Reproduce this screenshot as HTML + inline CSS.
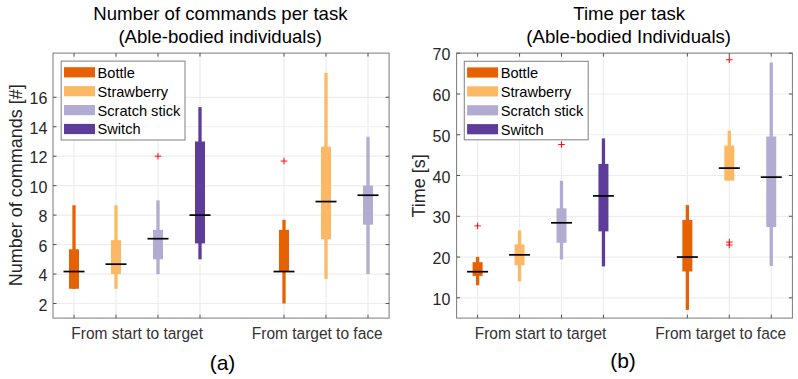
<!DOCTYPE html>
<html><head><meta charset="utf-8"><style>
html,body{margin:0;padding:0;background:#fff;}
body{width:798px;height:379px;overflow:hidden;}
svg{display:block;font-family:"Liberation Sans",sans-serif;}
</style></head><body>
<svg width="798" height="379" viewBox="0 0 798 379">
<rect width="798" height="379" fill="#fff"/>
<g stroke="#ededed" stroke-width="1.2"><line x1="53.0" y1="303.50" x2="389.1" y2="303.50"/><line x1="53.0" y1="274.04" x2="389.1" y2="274.04"/><line x1="53.0" y1="244.58" x2="389.1" y2="244.58"/><line x1="53.0" y1="215.12" x2="389.1" y2="215.12"/><line x1="53.0" y1="185.66" x2="389.1" y2="185.66"/><line x1="53.0" y1="156.20" x2="389.1" y2="156.20"/><line x1="53.0" y1="126.74" x2="389.1" y2="126.74"/><line x1="53.0" y1="97.28" x2="389.1" y2="97.28"/><line x1="74.00" y1="53.1" x2="74.00" y2="318.1"/><line x1="116.00" y1="53.1" x2="116.00" y2="318.1"/><line x1="158.00" y1="53.1" x2="158.00" y2="318.1"/><line x1="200.00" y1="53.1" x2="200.00" y2="318.1"/><line x1="284.00" y1="53.1" x2="284.00" y2="318.1"/><line x1="326.00" y1="53.1" x2="326.00" y2="318.1"/><line x1="368.00" y1="53.1" x2="368.00" y2="318.1"/></g>
<rect x="72.35" y="205.25" width="3.3" height="83.52" fill="#e66101"/>
<rect x="69.00" y="249.29" width="10.0" height="39.48" fill="#e66101"/>
<rect x="63.50" y="270.69" width="21.0" height="1.7" fill="#000"/>
<rect x="114.35" y="205.25" width="3.3" height="83.52" fill="#fdb863"/>
<rect x="111.00" y="240.16" width="10.0" height="33.88" fill="#fdb863"/>
<rect x="105.50" y="263.32" width="21.0" height="1.7" fill="#000"/>
<rect x="156.35" y="200.39" width="3.3" height="73.65" fill="#b2abd2"/>
<rect x="153.00" y="229.85" width="10.0" height="29.46" fill="#b2abd2"/>
<rect x="147.50" y="237.84" width="21.0" height="1.7" fill="#000"/>
<path d="M154.70 156.20H161.30M158.00 152.90V159.50" stroke="#ff0000" stroke-width="0.95" fill="none"/>
<rect x="198.35" y="107.15" width="3.3" height="152.16" fill="#5e3c99"/>
<rect x="195.00" y="141.47" width="10.0" height="101.93" fill="#5e3c99"/>
<rect x="189.50" y="214.27" width="21.0" height="1.7" fill="#000"/>
<rect x="282.35" y="219.83" width="3.3" height="83.67" fill="#e66101"/>
<rect x="279.00" y="229.85" width="10.0" height="41.69" fill="#e66101"/>
<rect x="273.50" y="270.69" width="21.0" height="1.7" fill="#000"/>
<path d="M280.70 161.06H287.30M284.00 157.76V164.36" stroke="#ff0000" stroke-width="0.95" fill="none"/>
<rect x="324.35" y="72.98" width="3.3" height="205.93" fill="#fdb863"/>
<rect x="321.00" y="146.63" width="10.0" height="92.65" fill="#fdb863"/>
<rect x="315.50" y="200.72" width="21.0" height="1.7" fill="#000"/>
<rect x="366.35" y="136.76" width="3.3" height="137.28" fill="#b2abd2"/>
<rect x="363.00" y="185.66" width="10.0" height="39.03" fill="#b2abd2"/>
<rect x="357.50" y="194.38" width="21.0" height="1.7" fill="#000"/>
<rect x="53.0" y="53.1" width="336.1" height="265.0" fill="none" stroke="#7a7a7a" stroke-width="1"/>
<path d="M53.0 303.50h3.5M389.1 303.50h-3.5M53.0 274.04h3.5M389.1 274.04h-3.5M53.0 244.58h3.5M389.1 244.58h-3.5M53.0 215.12h3.5M389.1 215.12h-3.5M53.0 185.66h3.5M389.1 185.66h-3.5M53.0 156.20h3.5M389.1 156.20h-3.5M53.0 126.74h3.5M389.1 126.74h-3.5M53.0 97.28h3.5M389.1 97.28h-3.5M74.00 318.1v-3.5M74.00 53.1v3.5M116.00 318.1v-3.5M116.00 53.1v3.5M158.00 318.1v-3.5M158.00 53.1v3.5M200.00 318.1v-3.5M200.00 53.1v3.5M284.00 318.1v-3.5M284.00 53.1v3.5M326.00 318.1v-3.5M326.00 53.1v3.5M368.00 318.1v-3.5M368.00 53.1v3.5" stroke="#555" stroke-width="1" fill="none"/>
<text x="47.4" y="310.50" text-anchor="end" font-size="16.0" fill="#262626">2</text>
<text x="47.4" y="281.04" text-anchor="end" font-size="16.0" fill="#262626">4</text>
<text x="47.4" y="251.58" text-anchor="end" font-size="16.0" fill="#262626">6</text>
<text x="47.4" y="222.12" text-anchor="end" font-size="16.0" fill="#262626">8</text>
<text x="47.4" y="192.66" text-anchor="end" font-size="16.0" fill="#262626">10</text>
<text x="47.4" y="163.20" text-anchor="end" font-size="16.0" fill="#262626">12</text>
<text x="47.4" y="133.74" text-anchor="end" font-size="16.0" fill="#262626">14</text>
<text x="47.4" y="104.28" text-anchor="end" font-size="16.0" fill="#262626">16</text>
<g stroke="#ededed" stroke-width="1.2"><line x1="456.6" y1="297.80" x2="792.4" y2="297.80"/><line x1="456.6" y1="257.04" x2="792.4" y2="257.04"/><line x1="456.6" y1="216.28" x2="792.4" y2="216.28"/><line x1="456.6" y1="175.52" x2="792.4" y2="175.52"/><line x1="456.6" y1="134.76" x2="792.4" y2="134.76"/><line x1="456.6" y1="94.00" x2="792.4" y2="94.00"/><line x1="456.6" y1="53.24" x2="792.4" y2="53.24"/><line x1="477.60" y1="53.1" x2="477.60" y2="318.1"/><line x1="519.55" y1="53.1" x2="519.55" y2="318.1"/><line x1="561.50" y1="53.1" x2="561.50" y2="318.1"/><line x1="603.45" y1="53.1" x2="603.45" y2="318.1"/><line x1="687.35" y1="53.1" x2="687.35" y2="318.1"/><line x1="729.30" y1="53.1" x2="729.30" y2="318.1"/><line x1="771.25" y1="53.1" x2="771.25" y2="318.1"/></g>
<rect x="475.95" y="256.88" width="3.3" height="28.41" fill="#e66101"/>
<rect x="472.60" y="262.18" width="10.0" height="13.74" fill="#e66101"/>
<rect x="467.10" y="270.86" width="21.0" height="1.7" fill="#000"/>
<path d="M474.30 225.90H480.90M477.60 222.60V229.20" stroke="#ff0000" stroke-width="0.95" fill="none"/>
<rect x="517.90" y="230.55" width="3.3" height="50.75" fill="#fdb863"/>
<rect x="514.55" y="244.40" width="10.0" height="20.95" fill="#fdb863"/>
<rect x="509.05" y="253.99" width="21.0" height="1.7" fill="#000"/>
<rect x="559.85" y="180.82" width="3.3" height="78.67" fill="#b2abd2"/>
<rect x="556.50" y="208.37" width="10.0" height="34.40" fill="#b2abd2"/>
<rect x="551.00" y="221.95" width="21.0" height="1.7" fill="#000"/>
<path d="M558.20 144.54H564.80M561.50 141.24V147.84" stroke="#ff0000" stroke-width="0.95" fill="none"/>
<rect x="601.80" y="138.43" width="3.3" height="127.99" fill="#5e3c99"/>
<rect x="598.45" y="163.90" width="10.0" height="67.46" fill="#5e3c99"/>
<rect x="592.95" y="195.05" width="21.0" height="1.7" fill="#000"/>
<rect x="685.70" y="205.07" width="3.3" height="104.83" fill="#e66101"/>
<rect x="682.35" y="219.95" width="10.0" height="51.52" fill="#e66101"/>
<rect x="676.85" y="256.19" width="21.0" height="1.7" fill="#000"/>
<rect x="727.65" y="130.68" width="3.3" height="49.93" fill="#fdb863"/>
<rect x="724.30" y="145.60" width="10.0" height="35.01" fill="#fdb863"/>
<rect x="718.80" y="167.25" width="21.0" height="1.7" fill="#000"/>
<path d="M726.00 59.76H732.60M729.30 56.46V63.06" stroke="#ff0000" stroke-width="0.95" fill="none"/>
<path d="M726.00 242.08H732.60M729.30 238.78V245.38" stroke="#ff0000" stroke-width="0.95" fill="none"/>
<path d="M726.00 245.02H732.60M729.30 241.72V248.32" stroke="#ff0000" stroke-width="0.95" fill="none"/>
<rect x="769.60" y="62.61" width="3.3" height="203.47" fill="#b2abd2"/>
<rect x="766.25" y="136.51" width="10.0" height="90.49" fill="#b2abd2"/>
<rect x="760.75" y="176.30" width="21.0" height="1.7" fill="#000"/>
<rect x="456.6" y="53.1" width="335.79999999999995" height="265.0" fill="none" stroke="#7a7a7a" stroke-width="1"/>
<path d="M456.6 297.80h3.5M792.4 297.80h-3.5M456.6 257.04h3.5M792.4 257.04h-3.5M456.6 216.28h3.5M792.4 216.28h-3.5M456.6 175.52h3.5M792.4 175.52h-3.5M456.6 134.76h3.5M792.4 134.76h-3.5M456.6 94.00h3.5M792.4 94.00h-3.5M456.6 53.24h3.5M792.4 53.24h-3.5M477.60 318.1v-3.5M477.60 53.1v3.5M519.55 318.1v-3.5M519.55 53.1v3.5M561.50 318.1v-3.5M561.50 53.1v3.5M603.45 318.1v-3.5M603.45 53.1v3.5M687.35 318.1v-3.5M687.35 53.1v3.5M729.30 318.1v-3.5M729.30 53.1v3.5M771.25 318.1v-3.5M771.25 53.1v3.5" stroke="#555" stroke-width="1" fill="none"/>
<text x="450.3" y="304.80" text-anchor="end" font-size="16.0" fill="#262626">10</text>
<text x="450.3" y="264.04" text-anchor="end" font-size="16.0" fill="#262626">20</text>
<text x="450.3" y="223.28" text-anchor="end" font-size="16.0" fill="#262626">30</text>
<text x="450.3" y="182.52" text-anchor="end" font-size="16.0" fill="#262626">40</text>
<text x="450.3" y="141.76" text-anchor="end" font-size="16.0" fill="#262626">50</text>
<text x="450.3" y="101.00" text-anchor="end" font-size="16.0" fill="#262626">60</text>
<text x="450.3" y="60.24" text-anchor="end" font-size="16.0" fill="#262626">70</text>
<rect x="61.2" y="61.1" width="123.8" height="78.9" fill="#fff" stroke="#8a8a8a" stroke-width="1.1"/>
<rect x="64.0" y="67.20" width="31" height="10.2" fill="#e66101"/>
<text x="97.6" y="77.70" font-size="14.6" fill="#000">Bottle</text>
<rect x="64.0" y="86.10" width="31" height="10.2" fill="#fdb863"/>
<text x="97.6" y="96.60" font-size="14.6" fill="#000">Strawberry</text>
<rect x="64.0" y="105.00" width="31" height="10.2" fill="#b2abd2"/>
<text x="97.6" y="115.50" font-size="14.6" fill="#000">Scratch stick</text>
<rect x="64.0" y="123.90" width="31" height="10.2" fill="#5e3c99"/>
<text x="97.6" y="134.40" font-size="14.6" fill="#000">Switch</text>
<rect x="464.3" y="61.3" width="123.9" height="78.5" fill="#fff" stroke="#8a8a8a" stroke-width="1.1"/>
<rect x="467.1" y="67.40" width="31" height="10.2" fill="#e66101"/>
<text x="500.7" y="77.90" font-size="14.6" fill="#000">Bottle</text>
<rect x="467.1" y="86.30" width="31" height="10.2" fill="#fdb863"/>
<text x="500.7" y="96.80" font-size="14.6" fill="#000">Strawberry</text>
<rect x="467.1" y="105.20" width="31" height="10.2" fill="#b2abd2"/>
<text x="500.7" y="115.70" font-size="14.6" fill="#000">Scratch stick</text>
<rect x="467.1" y="124.10" width="31" height="10.2" fill="#5e3c99"/>
<text x="500.7" y="134.60" font-size="14.6" fill="#000">Switch</text>
<text x="220.4" y="20" text-anchor="middle" font-size="18.6" fill="#000">Number of commands per task</text>
<text x="220.2" y="42.7" text-anchor="middle" font-size="18.6" fill="#000">(Able-bodied individuals)</text>
<text x="629.2" y="20" text-anchor="middle" font-size="18.6" fill="#000">Time per task</text>
<text x="628.7" y="42.7" text-anchor="middle" font-size="18.6" fill="#000">(Able-bodied Individuals)</text>
<text transform="translate(22.0 185.2) rotate(-90)" text-anchor="middle" font-size="18.0" fill="#262626">Number of commands [#]</text>
<text transform="translate(424.8 185.9) rotate(-90)" text-anchor="middle" font-size="18.0" fill="#262626">Time [s]</text>
<text transform="translate(137.20 339.1) scale(1 1.01)" text-anchor="middle" font-size="15.5" fill="#333">From start to target</text>
<text transform="translate(317.20 339.1) scale(1 1.01)" text-anchor="middle" font-size="15.5" fill="#333">From target to face</text>
<text transform="translate(540.50 339.1) scale(1 1.01)" text-anchor="middle" font-size="15.5" fill="#333">From start to target</text>
<text transform="translate(720.70 339.1) scale(1 1.01)" text-anchor="middle" font-size="15.5" fill="#333">From target to face</text>
<text x="222.5" y="370.1" text-anchor="middle" font-size="21" fill="#000">(a)</text>
<text x="623" y="368.1" text-anchor="middle" font-size="21" fill="#000">(b)</text>
</svg>
</body></html>
